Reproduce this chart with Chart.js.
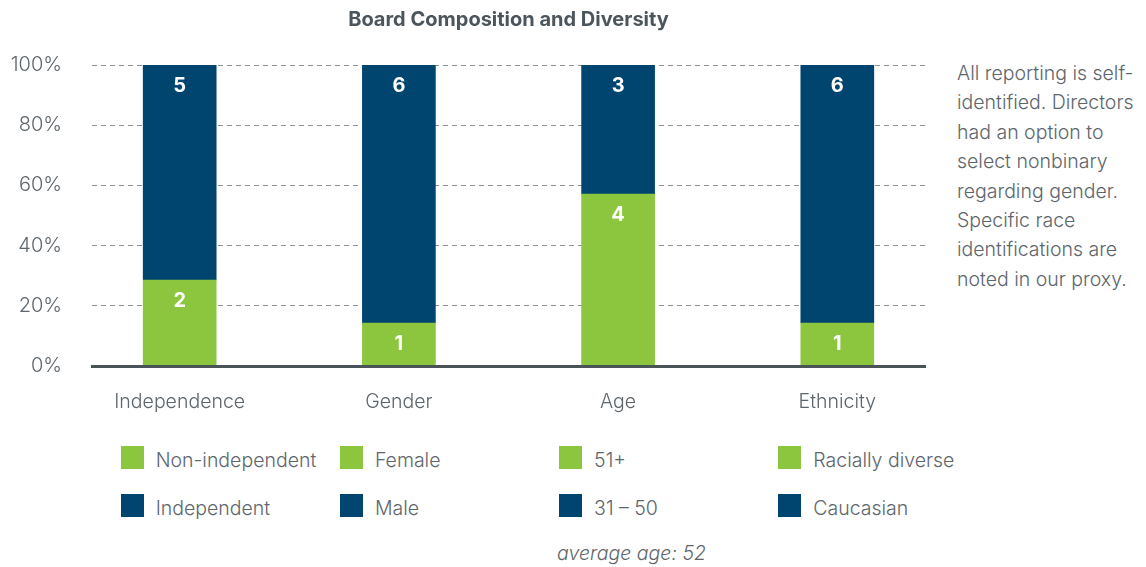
<!DOCTYPE html>
<html>
<head>
<meta charset="utf-8">
<script src="https://cdn.jsdelivr.net/npm/chart.js@4.4.0/dist/chart.umd.min.js"></script>
<style>
  body { margin: 0; width: 1146px; height: 567px; background: #fff; position: relative; overflow: hidden;
         font-family: Inter, "Noto Sans", sans-serif; color: #5d666c; font-weight: 300; }
  #wrap { position: absolute; left: 0; top: 0; width: 950px; height: 430px; }
  #note { position: absolute; left: 957px; top: 59px; font-size: 19.5px; line-height: 29.4px; }
  .lg { position: absolute; font-size: 19.5px; white-space: nowrap; line-height: 23px; }
  .lg i { display: inline-block; width: 23px; height: 23px; vertical-align: top; margin-right: 12px; }
  .lg span { position: relative; top: 3px; }
  #avg { position: absolute; font-size: 19.5px; font-style: italic; white-space: nowrap; }
</style>
</head>
<body>
<div id="wrap"><canvas id="myChart" width="950" height="430"></canvas></div>
<div id="note">All reporting is self-<br>identified. Directors<br>had an option to<br>select nonbinary<br>regarding gender.<br>Specific race<br>identifications are<br>noted in our proxy.</div>
<div id="legend"></div>
<div id="avg">average age: 52</div>
<script>
var categories = ['Independence', 'Gender', 'Age', 'Ethnicity'],
    greenLabels = ['Non-independent', 'Female', '51+', 'Racially diverse'],
    blueLabels = ['Independent', 'Male', '31 – 50', 'Caucasian'],
    greenCounts = [2, 1, 4, 1],
    blueCounts = [5, 6, 3, 6];

const GREEN = '#8cc63f',
    NAVY = '#004470',
    GREY = '#5d666c';

// one dataset per legend entry, so each category gets its own pair of labels
let datasets = [];
greenLabels.forEach((label, i) => {
    datasets.push({
        label: label,
        data: [{ x: i, y: greenCounts[i] / (greenCounts[i] + blueCounts[i]) * 100 }],
        count: greenCounts[i],
        backgroundColor: GREEN
    });
});
blueLabels.forEach((label, i) => {
    datasets.push({
        label: label,
        data: [{ x: i, y: blueCounts[i] / (greenCounts[i] + blueCounts[i]) * 100 }],
        count: blueCounts[i],
        backgroundColor: NAVY
    });
});

const countLabels = {
    id: 'countLabels',
    afterDatasetsDraw(chart) {
        let ctx = chart.ctx;
        ctx.save();
        ctx.fillStyle = '#fff';
        ctx.font = 'bold 20px Inter';
        ctx.textAlign = 'center';
        ctx.textBaseline = 'middle';
        chart.data.datasets.forEach((ds, i) => {
            chart.getDatasetMeta(i).data.forEach(bar => {
                ctx.fillText(ds.count, bar.x, bar.y + 21);
            });
        });
        ctx.restore();
    }
};

var ctx = document.getElementById('myChart').getContext('2d');
var myChart = new Chart(ctx, {
    type: 'bar',
    data: { datasets: datasets },
    plugins: [countLabels],
    options: {
        responsive: false,
        animation: false,
        devicePixelRatio: 1,
        barThickness: 73,
        layout: { padding: { left: 0, right: 25, top: 0, bottom: 0 } },
        plugins: {
            legend: { display: false },
            tooltip: { enabled: false },
            title: {
                display: true,
                fullSize: false,
                text: 'Board Composition and Diversity',
                color: '#4b555c',
                font: { family: 'Inter', size: 20, weight: 'bold' },
                padding: { top: 8, bottom: 33 }
            }
        },
        scales: {
            x: {
                type: 'linear',
                stacked: true,
                offset: false,
                min: -0.4,
                max: 3.4,
                afterBuildTicks: scale => {
                    scale.ticks = categories.map((c, i) => ({ value: i }));
                },
                afterFit: scale => { scale.height = 64; },
                grid: { display: false, drawTicks: false },
                border: { display: true, color: '#4a5358', width: 3, z: 1 },
                ticks: {
                    padding: 24,
                    autoSkip: false,
                    maxRotation: 0,
                    color: GREY,
                    font: { family: 'Inter', size: 19.5, weight: 300 },
                    callback: v => categories[v]
                }
            },
            y: {
                stacked: true,
                min: 0,
                max: 100,
                afterFit: scale => { scale.width = 92; },
                grid: { color: '#8e9398', lineWidth: 1, drawTicks: false },
                border: { display: false, dash: [5, 4] },
                ticks: {
                    stepSize: 20,
                    padding: 30,
                    color: GREY,
                    font: { family: 'Inter', size: 20, weight: 300 },
                    callback: v => v + '%'
                }
            }
        }
    }
});

// html legend in four columns lined up under the bars
function buildLegend(chart) {
    let xScale = chart.scales.x,
        html = '';
    chart.data.datasets.forEach((ds, i) => {
        let col = i % 4,
            row = Math.floor(i / 4),
            left = xScale.getPixelForValue(col) - 59,
            top = 446 + row * 48;
        html += `<div class="lg" style="left:${left}px;top:${top}px"><i style="background:${ds.backgroundColor}"></i><span>${ds.label}</span></div>`;
    });
    document.getElementById('legend').innerHTML = html;
    let avg = document.getElementById('avg');
    avg.style.left = (xScale.getPixelForValue(2) - 61) + 'px';
    avg.style.top = '541px';
}
buildLegend(myChart);
</script>
</body>
</html>
